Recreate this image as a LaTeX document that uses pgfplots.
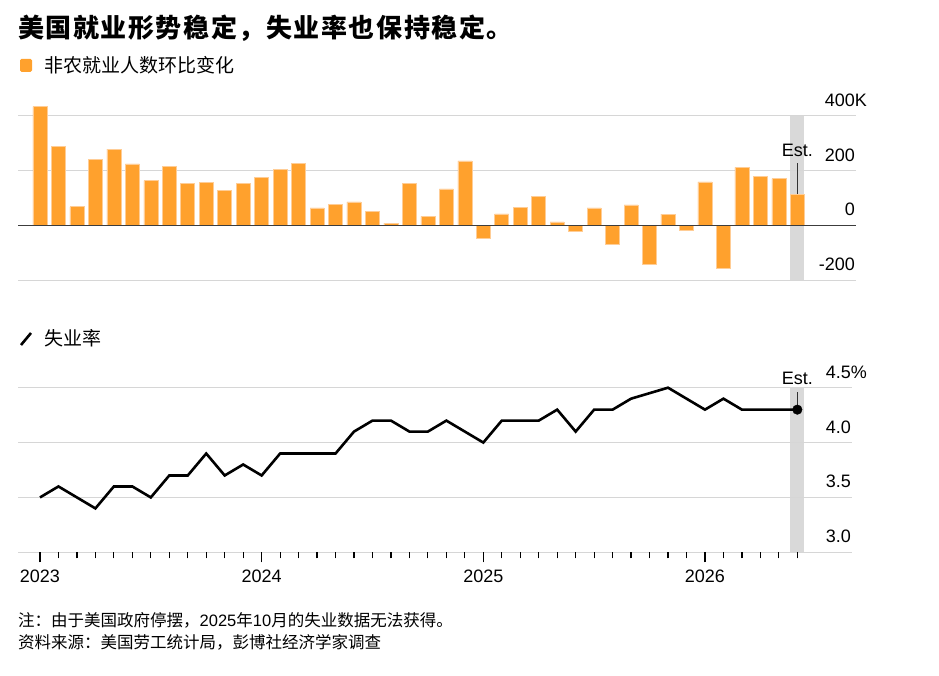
\documentclass[border=0pt]{standalone}
\usepackage{fontspec}
\usepackage{pgfplots}
\usepackage{pgfplotstable}
\pgfplotsset{compat=1.18}
\setmainfont{Liberation Sans}
\newfontfamily\cjk{Noto Sans CJK SC}
\newfontfamily\cjktitle{Noto Sans CJK SC}[LetterSpace=6]

\definecolor{barorange}{RGB}{255,161,45}
\definecolor{baredge}{RGB}{255,205,150}
\definecolor{gridgray}{RGB}{214,214,214}
\definecolor{bandgray}{RGB}{217,217,217}
\definecolor{zeroline}{RGB}{60,60,60}

% Monthly nonfarm payroll change, thousands (Jan 2023 = 0 ... Jun 2026 = 41)
\pgfplotstableread{
m  v
0  433
1  288
2  68
3  240
4  278
5  224
6  163
7  216
8  154
9  158
10 127
11 153
12 175
13 205
14 227
15 64
16 78
17 86
18 52
19 8
20 153
21 33
22 133
23 235
24 -47
25 42
26 67
27 107
28 13
29 -20
30 64
31 -69
32 75
33 -140
34 41
35 -17
36 159
37 -155
38 212
39 178
40 171
41 114
}\payrolls

% Unemployment rate, percent (October 2025 not published)
\pgfplotstableread{
m  v
0  3.5
1  3.6
2  3.5
3  3.4
4  3.6
5  3.6
6  3.5
7  3.7
8  3.7
9  3.9
10 3.7
11 3.8
12 3.7
13 3.9
14 3.9
15 3.9
16 3.9
17 4.1
18 4.2
19 4.2
20 4.1
21 4.1
22 4.2
23 4.1
24 4.0
25 4.2
26 4.2
27 4.2
28 4.3
29 4.1
30 4.3
31 4.3
32 4.4
34 4.5
35 4.4
36 4.3
37 4.4
38 4.3
39 4.3
40 4.3
41 4.3
}\jobless

\begin{document}
\begin{tikzpicture}[x=1bp,y=1bp]
\path (0,0) rectangle (939,676);

% Title and legends
\node[anchor=west, inner sep=0] at (18,647.5) {\cjktitle\bfseries\fontsize{26bp}{29bp}\selectfont 美国就业形势稳定，失业率也保持稳定。};
\fill[barorange, rounded corners=1.5] (20,604) rectangle (32,617);
\node[anchor=west, inner sep=0] at (44,610.5) {\cjk\fontsize{19bp}{22bp}\selectfont 非农就业人数环比变化};
\draw[black, line width=2.6bp] (21,331) -- (31,343);
\node[anchor=west, inner sep=0] at (44,338) {\cjk\fontsize{19bp}{22bp}\selectfont 失业率};

\pgfplotsset{
  chartbase/.style={
    set layers,
    scale only axis,
    axis line style={draw=none},
    ymajorgrids,
    grid style={gridgray, line width=1.3bp},
    ytick style={draw=none},
    yticklabel pos=right,
    yticklabel style={anchor=base east, inner sep=0, xshift=-1bp, yshift=9.5bp,
      font=\fontsize{18bp}{20bp}\selectfont},
    /pgf/number format/assume math mode=true,
    clip=false,
  }
}

% Payroll bars
\begin{axis}[chartbase,
  at={(18bp,395.7bp)}, anchor=south west,
  width=838bp, height=164.6bp,
  xmin=-1.19, xmax=44.18, ymin=-200, ymax=400,
  xtick=\empty,
  ytick={-200,0,200,400},
  yticklabels={-200,0,200,400\rlap{K}},
]
\addplot[fill=bandgray, draw=none, on layer=axis background]
  coordinates {(40.62,-200) (41.38,-200) (41.38,400) (40.62,400)} -- cycle;
\addplot[ybar, bar width=14bp, fill=barorange, draw=baredge, line width=0.6bp]
  table[x=m, y=v] {\payrolls};
\draw[zeroline, line width=1.3bp] (axis cs:-1.19,0) -- (axis cs:44.18,0);
\draw[black!80, line width=1bp] (axis cs:41,114) -- (axis cs:41,226);
\node[anchor=base, inner sep=0, font=\fontsize{18bp}{20bp}\selectfont] at (axis cs:41,251) {Est.};
\end{axis}

% Unemployment line
\begin{axis}[chartbase,
  at={(18bp,123.7bp)}, anchor=south west,
  width=834bp, height=164.6bp,
  xmin=-1.19, xmax=43.96, ymin=3, ymax=4.5,
  ytick={3,3.5,4,4.5},
  yticklabels={3.0,3.5,4.0,4.5\rlap{\%}},
  xtick={0,12,24,36},
  xticklabels={2023,2024,2025,2026},
  minor xtick={0,...,41},
  xtick pos=left,
  xtick align=outside,
  major tick length=10bp,
  minor tick length=6bp,
  xtick style={black, line width=1.2bp},
  every minor tick/.append style={black, line width=1.2bp},
  xticklabel style={anchor=north, inner sep=0, yshift=-7.7bp,
    font=\fontsize{18bp}{20bp}\selectfont},
]
\addplot[fill=bandgray, draw=none, on layer=axis background]
  coordinates {(40.62,3) (41.38,3) (41.38,4.5) (40.62,4.5)} -- cycle;
\addplot[black, line width=2.6bp, line join=miter, mark=none]
  table[x=m, y=v] {\jobless};
\addplot[only marks, mark=*, mark size=4.8bp, mark options={fill=black, draw=black}]
  coordinates {(41,4.3)};
\draw[black!80, line width=1bp] (axis cs:41,4.3) -- (axis cs:41,4.46);
\node[anchor=base, inner sep=0, font=\fontsize{18bp}{20bp}\selectfont] at (axis cs:41,4.525) {Est.};
\end{axis}

% Notes
\node[anchor=west, inner sep=0] at (18,55.3) {\fontsize{16.5bp}{19bp}\selectfont{\cjk 注：由于美国政府停摆，}2025{\cjk 年}10{\cjk 月的失业数据无法获得。}};
\node[anchor=west, inner sep=0] at (18,33.3) {\cjk\fontsize{16.5bp}{19bp}\selectfont 资料来源：美国劳工统计局，彭博社经济学家调查};
\end{tikzpicture}
\end{document}
